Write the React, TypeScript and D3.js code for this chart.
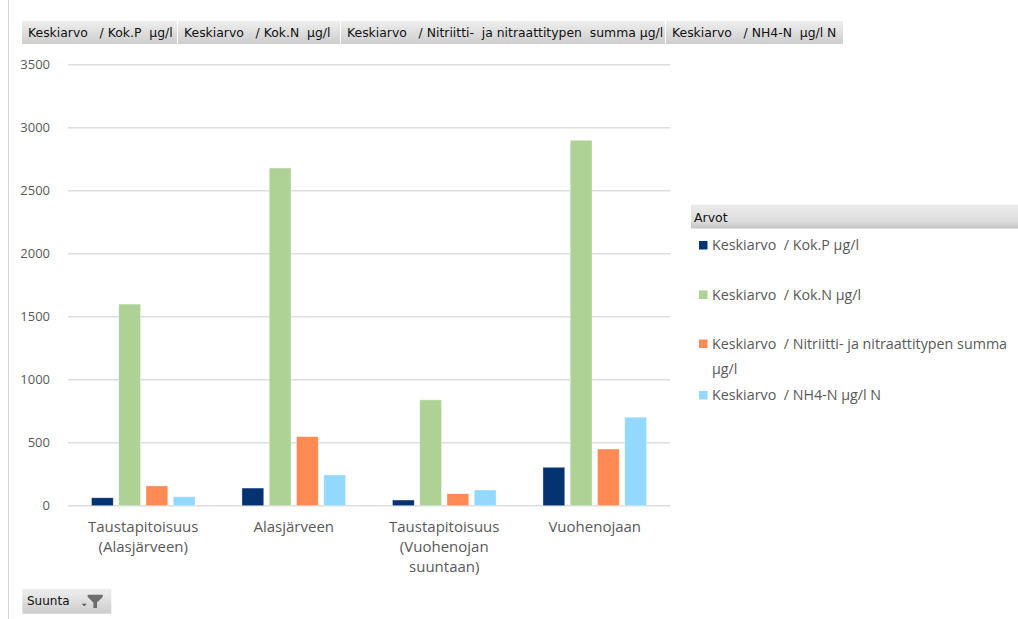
import React from "react";
import * as d3 from "d3";

// Pivot chart: mean concentrations per sampling direction
const categories: string[][] = [
  ["Taustapitoisuus", "(Alasjärveen)"],
  ["Alasjärveen"],
  ["Taustapitoisuus", "(Vuohenojan", "suuntaan)"],
  ["Vuohenojaan"],
];

const seriesNames = [
  "Keskiarvo  / Kok.P µg/l",
  "Keskiarvo  / Kok.N µg/l",
  "Keskiarvo  / Nitriitti- ja nitraattitypen summa µg/l",
  "Keskiarvo  / NH4-N µg/l N",
];

const fieldButtons = [
  "Keskiarvo   / Kok.P  µg/l",
  "Keskiarvo   / Kok.N  µg/l",
  "Keskiarvo   / Nitriitti-  ja nitraattitypen  summa µg/l",
  "Keskiarvo   / NH4-N  µg/l N",
];

const kokP = [63, 140, 45, 305];
const kokN = [1600, 2680, 840, 2900];
const nitri = [157, 548, 95, 450];
const nh4 = [71, 244, 125, 702];

const yTicks = [0, 500, 1000, 1500, 2000, 2500, 3000, 3500];

const colors = ["#053371", "#aed195", "#ff8a54", "#93d9ff"];

const values = [kokP, kokN, nitri, nh4];

const W = 1018;
const H = 619;
const plot = { left: 68, right: 670, top: 64.7, bottom: 505.7 };

const labelFont = "'Open Sans', 'Liberation Sans', sans-serif";
const uiFont = "'DejaVu Sans', Verdana, sans-serif";

export default function App() {
  const x0 = d3
    .scaleBand<number>()
    .domain(d3.range(categories.length))
    .range([plot.left, plot.right])
    .padding(0);
  const x1 = d3
    .scaleBand<number>()
    .domain(d3.range(values.length))
    .range([0, x0.bandwidth()])
    .paddingInner(0.2)
    .paddingOuter(0.86);
  const y = d3.scaleLinear().domain([0, 3500]).range([plot.bottom, plot.top]);

  // field button extents along the top
  const btnEdges = [22, 178, 341, 666, 844];

  const legendRows = [
    { lines: [seriesNames[0]], y: 245 },
    { lines: [seriesNames[1]], y: 294.5 },
    { lines: ["Keskiarvo  / Nitriitti- ja nitraattitypen summa", "µg/l"], y: 343.5 },
    { lines: [seriesNames[3]], y: 395 },
  ];

  return (
    <svg
      width={W}
      height={H}
      style={{ position: "absolute", left: 0, top: 0, background: "#fff" }}
    >
      <defs>
        <linearGradient id="btnGrad" x1="0" y1="0" x2="0" y2="1">
          <stop offset="0" stopColor="#efefef" />
          <stop offset="1" stopColor="#cdcdcd" />
        </linearGradient>
        <linearGradient id="hdrGrad" x1="0" y1="0" x2="0" y2="1">
          <stop offset="0" stopColor="#ececec" />
          <stop offset="0.7" stopColor="#dcdcdc" />
          <stop offset="1" stopColor="#c4c4c4" />
        </linearGradient>
      </defs>

      {/* frame edge */}
      <line x1={8.5} x2={8.5} y1={0} y2={H} stroke="#d9d9d9" strokeWidth={1} />

      {/* value field buttons */}
      {fieldButtons.map((t, i) => (
        <g key={t}>
          <rect
            x={btnEdges[i]}
            y={21}
            width={btnEdges[i + 1] - btnEdges[i] - 1}
            height={23}
            fill="url(#btnGrad)"
          />
          <text
            x={btnEdges[i] + 6}
            y={36.5}
            fontFamily={uiFont}
            fontSize={12.4}
            fill="#111"
            style={{ whiteSpace: "pre" }}
          >
            {t}
          </text>
        </g>
      ))}

      {/* gridlines and y ticks */}
      {yTicks.map((t) => (
        <g key={t}>
          <line
            x1={plot.left}
            x2={plot.right}
            y1={y(t)}
            y2={y(t)}
            stroke="#dedede"
            strokeWidth={1.5}
          />
          <text
            x={50}
            y={y(t)}
            dy="0.33em"
            textAnchor="end"
            fontFamily={labelFont}
            fontSize={13}
            fill="#595959"
          >
            {t}
          </text>
        </g>
      ))}

      {/* bars */}
      {categories.map((_, ci) => (
        <g key={ci} transform={`translate(${x0(ci)},0)`}>
          {values.map((s, si) => (
            <rect
              key={si}
              x={x1(si)}
              y={y(s[ci])}
              width={x1.bandwidth()}
              height={y(0) - y(s[ci])}
              fill={colors[si]}
              stroke="rgba(255,255,255,0.45)"
              strokeWidth={0.8}
            />
          ))}
        </g>
      ))}

      {/* category labels */}
      {categories.map((lines, ci) => (
        <text
          key={ci}
          x={(x0(ci) as number) + x0.bandwidth() / 2}
          textAnchor="middle"
          fontFamily={labelFont}
          fontSize={15}
          fill="#595959"
        >
          {lines.map((l, li) => (
            <tspan key={li} x={(x0(ci) as number) + x0.bandwidth() / 2} y={532 + li * 20}>
              {l}
            </tspan>
          ))}
        </text>
      ))}

      {/* legend */}
      <rect x={691} y={204.5} width={327} height={24} fill="url(#hdrGrad)" />
      <text x={694} y={221.5} fontFamily={uiFont} fontSize={12.5} fill="#111">
        Arvot
      </text>
      {legendRows.map((r, i) => (
        <g key={i}>
          <rect x={699} y={r.y - 4} width={8.5} height={8.5} fill={colors[i]} />
          <text
            fontFamily={labelFont}
            fontSize={14.3}
            fill="#595959"
            style={{ whiteSpace: "pre" }}
          >
            {r.lines.map((l, li) => (
              <tspan key={li} x={712} y={r.y + 5 + li * 25}>
                {l}
              </tspan>
            ))}
          </text>
        </g>
      ))}

      {/* axis field button */}
      <rect x={22.3} y={588.7} width={89} height={25} fill="url(#btnGrad)" />
      <text x={27} y={605.3} fontFamily={uiFont} fontSize={12} fill="#111">
        Suunta
      </text>
      <path d="M81.7,603.7 L86.7,603.7 L84.2,606.3 Z" fill="#555" />
      <path
        d="M87.7,594.7 L102.7,594.7 L102.7,597 L97,602.5 L97,608 L93.4,608 L93.4,602.5 L87.7,597 Z"
        fill="#6e6e6e"
      />
    </svg>
  );
}
